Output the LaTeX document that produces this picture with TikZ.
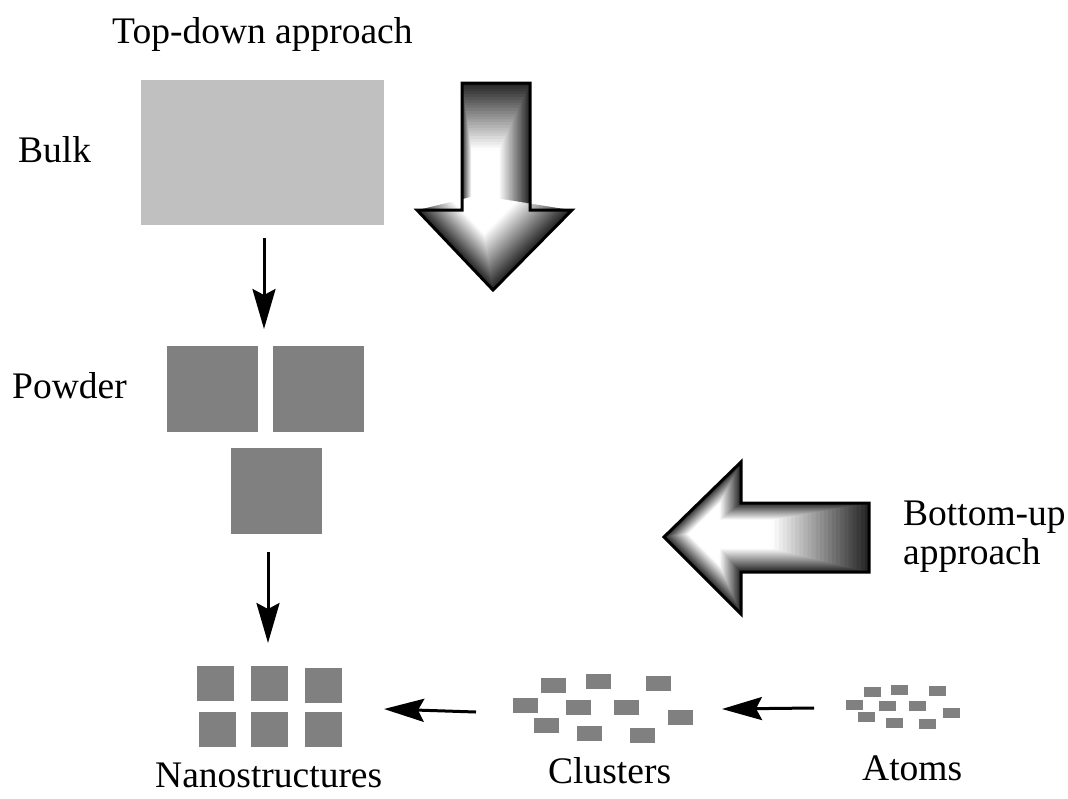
\documentclass[tikz,border=0pt]{standalone}
\usepackage{fontspec}
\setmainfont{Liberation Serif}
\usetikzlibrary{arrows.meta}
\tikzset{
  lbl/.style={font=\fontsize{37.5}{39}\selectfont, inner sep=0pt},
  bulkbox/.style={rectangle, fill=bulkgray, draw=none, inner sep=0pt},
  grain/.style={rectangle, fill=graingray, draw=none, inner sep=0pt, minimum width=91pt, minimum height=86pt},
  nano/.style={rectangle, fill=graingray, draw=none, inner sep=0pt, minimum width=37pt, minimum height=35pt},
  clu/.style={rectangle, fill=graingray, draw=none, inner sep=0pt, minimum width=25pt, minimum height=15pt},
  atom/.style={rectangle, fill=graingray, draw=none, inner sep=0pt, minimum width=17pt, minimum height=10pt},
  conn/.style={line width=3pt, -{Stealth[length=40pt, width=23pt, inset=6pt]}},
  bigout/.style={draw=black, line width=3pt, line join=miter}
}
\definecolor{bulkgray}{HTML}{C0C0C0}
\definecolor{graingray}{HTML}{808080}
\begin{document}
\begin{tikzpicture}[x=1pt, y=-1pt]
\useasboundingbox (0,0) rectangle (1068,798);

% labels
\node[lbl, anchor=base west] (ltop) at (112,43) {Top-down approach};
\node[lbl, anchor=base west] (lbulk) at (18,162) {Bulk};
\node[lbl, anchor=base west] (lpow) at (12,398) {Powder};
\node[lbl, anchor=north west, align=left] (lbu) at (903,501) {Bottom-up\\approach};
\node[lbl, anchor=base west] (lnano) at (155,787) {Nanostructures};
\node[lbl, anchor=base west] (lclu) at (548,783) {Clusters};
\node[lbl, anchor=base west] (latom) at (862,780) {Atoms};

% bulk
\node[bulkbox, minimum width=243pt, minimum height=145pt] (bulk) at (262.5,152.5) {};

% powder
\node[grain] (p1) at (212.5,388.5) {};
\node[grain] (p2) at (318.5,388.5) {};
\node[grain] (p3) at (276.5,490.5) {};

% nanostructures
\node[nano] (n1) at (215.5,683.5) {};
\node[nano] (n2) at (269.5,683.5) {};
\node[nano] (n3) at (323.5,685.5) {};
\node[nano] (n4) at (217.5,729.5) {};
\node[nano] (n5) at (269.5,729.5) {};
\node[nano] (n6) at (323.5,729.5) {};

% clusters
\node[clu] (c1) at (553.5,685) {};
\node[clu] (c2) at (598.5,681.5) {};
\node[clu] (c3) at (658,683) {};
\node[clu] (c4) at (525.5,705.5) {};
\node[clu] (c5) at (578,707.5) {};
\node[clu] (c6) at (626,707.5) {};
\node[clu] (c7) at (680,717.5) {};
\node[clu] (c8) at (546,725.5) {};
\node[clu] (c9) at (589.5,733.5) {};
\node[clu] (c10) at (642,735.5) {};

% atoms
\node[atom] (a1) at (872,692) {};
\node[atom] (a2) at (899.5,689.5) {};
\node[atom] (a3) at (937.5,691) {};
\node[atom] (a4) at (854,704.5) {};
\node[atom] (a5) at (887,706) {};
\node[atom] (a6) at (917.5,706) {};
\node[atom] (a7) at (951.5,713) {};
\node[atom] (a8) at (866.5,717) {};
\node[atom] (a9) at (894.5,722.5) {};
\node[atom] (a10) at (927.5,724) {};

% connector ends
\coordinate (k1s) at (264,238);
\coordinate (k1e) at (264,329);
\coordinate (k2s) at (268,552);
\coordinate (k2e) at (268,643);
\coordinate (k3s) at (476,712);
\coordinate (k3e) at (384,709);
\coordinate (k4s) at (814,708);
\coordinate (k4e) at (722,709);

\draw[conn] (k1s) -- (k1e);
\draw[conn] (k2s) -- (k2e);
\draw[conn] (k3s) -- (k3e);
\draw[conn] (k4s) -- (k4e);

% big top-down arrow (path gradient)
\foreach \i in {0,...,39}{
  \pgfmathsetmacro\s{1-\i/40}
  \pgfmathsetmacro\c{max(0,min(85,85*(\s-0.42)/0.58))}
  \begin{scope}[shift={(478,195)}, scale=\s]
    \fill[black!\c] (-16,-112) -- (52,-112) -- (52,15) -- (94,15) -- (15,95) -- (-61,15) -- (-16,15) -- cycle;
  \end{scope}
}
\begin{scope}[shift={(478,195)}]
  \draw[bigout] (-16,-112) -- (52,-112) -- (52,15) -- (94,15) -- (15,95) -- (-61,15) -- (-16,15) -- cycle;
\end{scope}

% big bottom-up arrow (path gradient)
\foreach \i in {0,...,39}{
  \pgfmathsetmacro\s{1-\i/40}
  \pgfmathsetmacro\c{max(0,min(85,85*(\s-0.42)/0.58))}
  \begin{scope}[shift={(705,532)}, scale=\s]
    \fill[black!\c] (-41,5) -- (36,-70) -- (36,-29) -- (164,-29) -- (164,40) -- (36,40) -- (36,82) -- cycle;
  \end{scope}
}
\begin{scope}[shift={(705,532)}]
  \draw[bigout] (-41,5) -- (36,-70) -- (36,-29) -- (164,-29) -- (164,40) -- (36,40) -- (36,82) -- cycle;
\end{scope}
\end{tikzpicture}
\end{document}
